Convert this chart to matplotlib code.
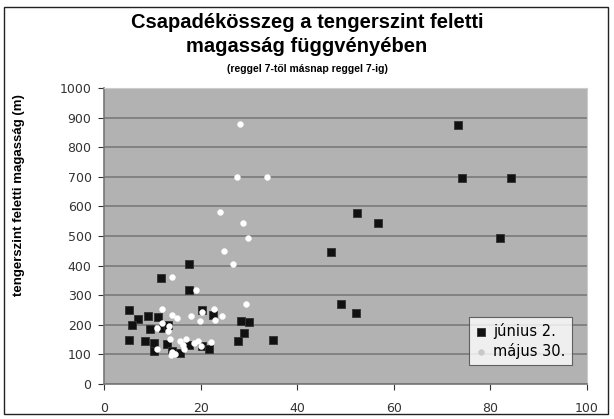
import matplotlib
matplotlib.use("Agg")
import matplotlib.pyplot as plt
from matplotlib.patches import Rectangle

# június 2. (black squares): distance-ish x value, altitude (m)
jun_x = [5.2, 7.0, 9.2, 11.2, 5.7, 9.6, 12.2, 13.3, 5.2, 8.4, 10.4, 13.0, 10.3, 14.0,
         15.7, 17.7, 20.2, 21.7, 20.3, 22.5, 28.4, 30.0, 28.9, 27.8, 34.9, 11.9, 17.7,
         17.6, 46.9, 49.0, 52.2, 52.4, 56.7, 81.9, 73.3, 74.1, 84.3]
jun_y = [250, 221, 230, 227, 200, 187, 190, 200, 150, 144, 138, 134, 113, 110,
         106, 131, 127, 119, 250, 232, 214, 209, 173, 146, 149, 359, 405,
         317, 447, 270, 241, 578, 543, 492, 876, 696, 696]

# május 30. (white circles)
maj_x = [28.2, 27.6, 33.7, 24.0, 28.7, 29.9, 24.8, 26.8, 14.0, 19.1, 29.5,
         12.1, 14.0, 15.2, 12.1, 13.4, 11.0, 13.2, 18.0, 19.9, 20.2, 22.8, 24.4, 23.0,
         13.6, 15.8, 17.0, 16.3, 19.5, 18.7, 20.0, 22.1, 16.6, 14.0, 13.8, 10.9, 14.8]
maj_y = [878, 698, 698, 580, 545, 495, 449, 407, 360, 319, 271,
         253, 234, 222, 206, 197, 189, 180, 230, 212, 243, 253, 231, 216,
         152, 146, 153, 133, 147, 139, 127, 142, 118, 107, 97, 118, 100]

labels = ["június 2.", "május 30."]

plt.rcParams['font.family'] = ['DejaVu Sans']
title_font = ['Liberation Sans', 'DejaVu Sans']

fig = plt.figure(figsize=(6.14, 4.19), dpi=100)
fig.patches.append(Rectangle((0.006, 0.012), 0.984, 0.972, transform=fig.transFigure,
                             fill=False, edgecolor='#222222', linewidth=1.0))

ax = fig.add_axes([0.1694, 0.0835, 0.7866, 0.7064])
ax.set_facecolor('#b2b2b2')

ax.scatter(jun_x, jun_y, marker='s', s=34, c='#111111', edgecolors='#333333',
           linewidths=0.6, label=labels[0], zorder=3)
ax.scatter(maj_x, maj_y, marker='o', s=18, c='white', edgecolors='white',
           linewidths=0.3, label=labels[1], zorder=4)

ax.set_xlim(0, 100)
ax.set_ylim(0, 1000)
ax.set_xticks(range(0, 101, 20))
ax.set_yticks(range(0, 1001, 100))
ax.yaxis.grid(True, color='#7a7a7a', linewidth=1.2)
ax.set_axisbelow(True)
ax.tick_params(labelsize=9, colors='#333333', length=4, width=0.8)
ax.tick_params(axis='x', pad=9)
ax.tick_params(axis='y', pad=5)
for side in ['top', 'right']:
    ax.spines[side].set_color('#cccccc')
for side in ['left', 'bottom']:
    ax.spines[side].set_color('#777777')
    ax.spines[side].set_linewidth(1.2)

ax.set_ylabel('tengerszint feletti magasság (m)', fontsize=9.5, fontweight='bold',
              family=title_font)
ax.yaxis.set_label_coords(-0.164, 0.64)

fig.text(0.5, 0.947, 'Csapadékösszeg a tengerszint feletti', ha='center', va='center',
         fontsize=14.5, fontweight='bold', family=title_font)
fig.text(0.5, 0.888, 'magasság függvényében', ha='center', va='center',
         fontsize=14.5, fontweight='bold', family=title_font)
fig.text(0.5, 0.836, '(reggel 7-től másnap reggel 7-ig)', ha='center', va='center',
         fontsize=7.5, fontweight='bold', family=title_font)

leg = ax.legend(loc='lower right', bbox_to_anchor=(0.968, 0.065), fontsize=10.5,
                frameon=True, fancybox=False, handletextpad=0.4, handlelength=0.9,
                borderpad=0.4, labelspacing=0.25, borderaxespad=0)
leg.get_frame().set_edgecolor('#444444')
leg.get_frame().set_linewidth(0.8)
leg.legend_handles[1].set_facecolor('#c8c8c8')
leg.legend_handles[1].set_edgecolor('#c8c8c8')

fig.savefig('out.png', dpi=100)
